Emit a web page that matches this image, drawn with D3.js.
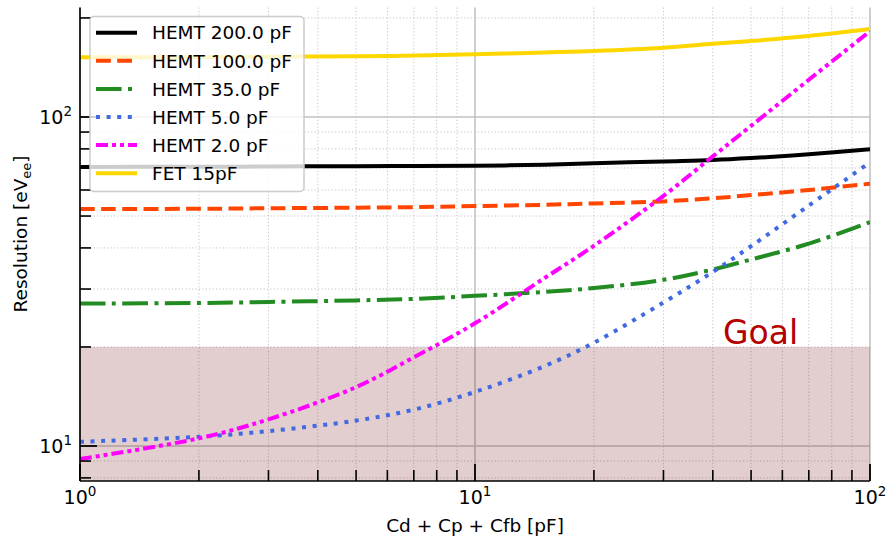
<!DOCTYPE html>
<html><head><meta charset="utf-8">
<script src="https://cdn.jsdelivr.net/npm/d3@7"></script>
<style>body{margin:0;background:#fff}svg{display:block;font-family:"DejaVu Sans",sans-serif}</style>
</head><body><svg id="c" width="888" height="543"></svg>
<script>
// ---- data ----
const capacitance = [1, 2, 3, 5, 7, 10, 15, 20, 30, 40, 50, 70, 100];
const hemt200 = [70.5, 70.6, 70.7, 70.9, 71.0, 71.1, 71.6, 72.3, 73.3, 74.0, 75.0, 77.0, 79.8];
const hemt100 = [52.5, 52.6, 52.8, 53.0, 53.2, 53.6, 54.1, 54.6, 55.4, 56.6, 57.9, 60.0, 62.7];
const hemt35  = [27.1, 27.2, 27.4, 27.7, 28.0, 28.6, 29.4, 30.2, 32.0, 34.4, 36.9, 41.2, 47.9];
const hemt5   = [10.3, 10.67, 11.1, 11.95, 12.9, 14.6, 17.5, 20.6, 27.3, 33.8, 40.5, 53.8, 72.8];
const hemt2   = [9.13, 10.55, 12.05, 15.1, 18.6, 23.6, 32.4, 40.6, 57.6, 75.9, 94.0, 129.8, 182.2];
const fet15   = [151.9, 152.1, 152.4, 153.0, 153.7, 155.1, 157.1, 158.7, 162.4, 167.0, 170.3, 176.3, 185.0];
const seriesNames = ["HEMT 200.0 pF", "HEMT 100.0 pF", "HEMT 35.0 pF", "HEMT 5.0 pF", "HEMT 2.0 pF", "FET 15pF"];
const goalLevel = 20;
const xTickExps = [0, 1, 2];
const yTickExps = [1, 2];

// ---- styles ----
const styles = [
  {color: "#000000", dash: null},
  {color: "#ff4500", dash: "14.8,6.4"},
  {color: "#228b22", dash: "25.6,6.4,4,6.4"},
  {color: "#4169e1", dash: "4,6.6"},
  {color: "#ff00ff", dash: "12,4,4,4,4,4"},
  {color: "#ffd700", dash: null}
];
const allSeries = [hemt200, hemt100, hemt35, hemt5, hemt2, fet15];

const svg = d3.select("#c");
const L = 80, R = 870, T = 7.5, B = 481;
const x = d3.scaleLog().domain([1, 100]).range([L, R]);
const y = d3.scaleLog().domain([Math.pow(10, 0.89362), Math.pow(10, 2.33283)]).range([B, T]);

const defs = svg.append("defs");
defs.append("clipPath").attr("id", "clip").append("rect")
  .attr("x", L).attr("y", T).attr("width", R - L).attr("height", B - T);

const g = svg.append("g");
const xMinor = [], yMinor = [];
for (let d = 1; d < 100; d *= 10) for (let k = 2; k <= 9; k++) xMinor.push(d * k);
[8, 9, 20, 30, 40, 50, 60, 70, 80, 90, 200].forEach(v => yMinor.push(v));
const xMajor = [1, 10, 100], yMajor = [10, 100];

g.selectAll(".xmg").data(xMinor).join("line")
  .attr("x1", d => x(d)).attr("x2", d => x(d)).attr("y1", T).attr("y2", B)
  .attr("stroke", "#c4c4c4").attr("stroke-width", 1).attr("stroke-dasharray", "1.2,2.2");
g.selectAll(".ymg").data(yMinor).join("line")
  .attr("y1", d => y(d)).attr("y2", d => y(d)).attr("x1", L).attr("x2", R)
  .attr("stroke", "#c4c4c4").attr("stroke-width", 1).attr("stroke-dasharray", "1.2,2.2");
g.selectAll(".xMg").data(xMajor).join("line")
  .attr("x1", d => x(d)).attr("x2", d => x(d)).attr("y1", T).attr("y2", B)
  .attr("stroke", "#c2c2c2").attr("stroke-width", 1.6);
g.selectAll(".yMg").data(yMajor).join("line")
  .attr("y1", d => y(d)).attr("y2", d => y(d)).attr("x1", L).attr("x2", R)
  .attr("stroke", "#c2c2c2").attr("stroke-width", 1.6);

// goal region
g.append("rect").attr("x", L).attr("width", R - L)
  .attr("y", y(goalLevel)).attr("height", B - y(goalLevel))
  .attr("fill", "rgb(110,10,10)").attr("fill-opacity", 0.2);

svg.append("text").attr("x", 723).attr("y", 344)
  .attr("font-size", 33).attr("fill", "#b50000").text("Goal");

// curves
const line = d3.line().x(d => x(d[0])).y(d => y(d[1])).curve(d3.curveCatmullRom.alpha(0.5));
const cg = svg.append("g").attr("clip-path", "url(#clip)");
allSeries.forEach((s, i) => {
  const pts = capacitance.map((c, j) => [c, s[j]]);
  cg.append("path").attr("d", line(pts)).attr("fill", "none")
    .attr("stroke", styles[i].color).attr("stroke-width", 4)
    .attr("stroke-dasharray", styles[i].dash);
});

// spines
svg.append("line").attr("x1", L).attr("x2", L).attr("y1", T).attr("y2", B)
  .attr("stroke", "#000").attr("stroke-width", 1.6);
svg.append("line").attr("x1", L).attr("x2", R).attr("y1", B).attr("y2", B)
  .attr("stroke", "#000").attr("stroke-width", 1.6);

// ticks (inward)
const ax = svg.append("g");
xMajor.forEach(v => ax.append("line").attr("x1", x(v)).attr("x2", x(v)).attr("y1", B).attr("y2", B - 17)
  .attr("stroke", "#000").attr("stroke-width", 1.8));
xMinor.forEach(v => ax.append("line").attr("x1", x(v)).attr("x2", x(v)).attr("y1", B).attr("y2", B - 11)
  .attr("stroke", "#000").attr("stroke-width", 1.6));
yMajor.forEach(v => ax.append("line").attr("y1", y(v)).attr("y2", y(v)).attr("x1", L).attr("x2", L + 17)
  .attr("stroke", "#000").attr("stroke-width", 1.8));
yMinor.forEach(v => ax.append("line").attr("y1", y(v)).attr("y2", y(v)).attr("x1", L).attr("x2", L + 11)
  .attr("stroke", "#000").attr("stroke-width", 1.6));

// tick labels
xTickExps.forEach(e => {
  const t = ax.append("text").attr("x", x(Math.pow(10, e))).attr("y", 504)
    .attr("text-anchor", "middle").attr("font-size", 19).attr("fill", "#000");
  t.append("tspan").text("10");
  t.append("tspan").attr("font-size", 13.5).attr("dy", -8).text(e);
});
yTickExps.forEach(e => {
  const t = ax.append("text").attr("x", 72).attr("y", y(Math.pow(10, e)) + 7)
    .attr("text-anchor", "end").attr("font-size", 19).attr("fill", "#000");
  t.append("tspan").text("10");
  t.append("tspan").attr("font-size", 13.5).attr("dy", -8).text(e);
});

// axis labels
svg.append("text").attr("x", (L + R) / 2).attr("y", 532).attr("text-anchor", "middle")
  .attr("font-size", 18.5).text("Cd + Cp + Cfb [pF]");
const yl = svg.append("text").attr("transform", "translate(27," + 234 + ") rotate(-90)")
  .attr("text-anchor", "middle").attr("font-size", 18.5);
yl.append("tspan").text("Resolution [eV");
yl.append("tspan").attr("font-size", 13).attr("dy", 4).text("ee");
yl.append("tspan").attr("dy", -4).text("]");

// legend
const lg = svg.append("g");
lg.append("rect").attr("x", 90).attr("y", 16.5).attr("width", 214).attr("height", 175)
  .attr("rx", 4).attr("fill", "#fff").attr("fill-opacity", 0.8)
  .attr("stroke", "#cccccc").attr("stroke-width", 1.5);
seriesNames.forEach((n, i) => {
  const cy = 32.7 + i * 28.1;
  lg.append("line").attr("x1", 96).attr("x2", 137).attr("y1", cy).attr("y2", cy)
    .attr("stroke", styles[i].color).attr("stroke-width", 4)
    .attr("stroke-dasharray", styles[i].dash);
  lg.append("text").attr("x", 152).attr("y", cy + 6.7).attr("font-size", 18.5).text(n);
});
</script></body></html>
